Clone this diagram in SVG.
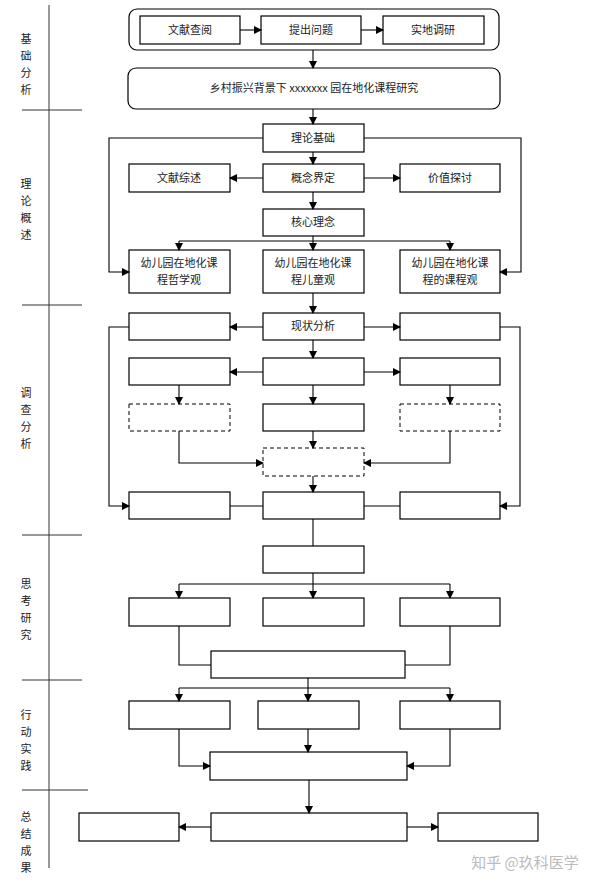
<svg xmlns="http://www.w3.org/2000/svg" width="607" height="889" viewBox="0 0 607 889">
<style>
.b{fill:#fff;stroke:#000;stroke-width:1.2}
.d{fill:#fff;stroke:#000;stroke-width:1;stroke-dasharray:4,3}
.t{font-family:"Noto Sans CJK SC","Liberation Sans",sans-serif;font-size:11px;fill:#222;text-anchor:middle}
.l{font-family:"Noto Sans CJK SC",sans-serif;font-size:11px;fill:#222;text-anchor:middle}
.c path{fill:none;stroke:#000;stroke-width:1.1}
</style>
<defs><marker id="a" markerWidth="8" markerHeight="8" refX="7" refY="4" orient="auto" markerUnits="userSpaceOnUse"><path d="M0,0L8,4L0,8z" fill="#000"/></marker></defs>
<rect width="607" height="889" fill="#fff"/>
<g id="lanes" stroke="#333" stroke-width="1">
<line x1="49" y1="5" x2="49" y2="868"/>
<line x1="22" y1="110" x2="82" y2="110"/>
<line x1="22" y1="305" x2="82" y2="305"/>
<line x1="22" y1="535" x2="82" y2="535"/>
<line x1="22" y1="680" x2="82" y2="680"/>
<line x1="22" y1="790" x2="88" y2="790"/>
</g>
<g id="lanelabels" class="l">
<text x="26" y="43">基</text><text x="26" y="60">础</text><text x="26" y="77">分</text><text x="26" y="94">析</text>
<text x="26" y="188">理</text><text x="26" y="205">论</text><text x="26" y="222">概</text><text x="26" y="239">述</text>
<text x="26" y="397">调</text><text x="26" y="414">查</text><text x="26" y="431">分</text><text x="26" y="448">析</text>
<text x="26" y="588">思</text><text x="26" y="605">考</text><text x="26" y="622">研</text><text x="26" y="639">究</text>
<text x="26" y="719">行</text><text x="26" y="736">动</text><text x="26" y="753">实</text><text x="26" y="770">践</text>
<text x="26" y="821">总</text><text x="26" y="838">结</text><text x="26" y="855">成</text><text x="26" y="872">果</text>
</g>
<g id="n_top"><rect class="b" x="129" y="9" width="370" height="41" rx="8"/></g>
<g id="n1"><rect class="b" x="140" y="16" width="100" height="28"/><text class="t" x="190" y="34">文献查阅</text></g>
<g id="n2"><rect class="b" x="261" y="16" width="100" height="28"/><text class="t" x="311" y="34">提出问题</text></g>
<g id="n3"><rect class="b" x="383" y="16" width="101" height="28"/><text class="t" x="433" y="34">实地调研</text></g>
<g id="n_main"><rect class="b" x="128" y="68" width="372" height="41" rx="8"/><text class="t" x="314" y="92">乡村振兴背景下 xxxxxxx 园在地化课程研究</text></g>
<g id="n_llj"><rect class="b" x="263" y="124" width="101" height="28"/><text class="t" x="313" y="142">理论基础</text></g>
<g id="n_wxzs"><rect class="b" x="129" y="164" width="101" height="28"/><text class="t" x="179" y="182">文献综述</text></g>
<g id="n_gnjd"><rect class="b" x="263" y="164" width="101" height="28"/><text class="t" x="313" y="182">概念界定</text></g>
<g id="n_jztt"><rect class="b" x="400" y="164" width="100" height="28"/><text class="t" x="450" y="182">价值探讨</text></g>
<g id="n_hxln"><rect class="b" x="263" y="209" width="101" height="27"/><text class="t" x="313" y="226">核心理念</text></g>
<g id="n_zx"><rect class="b" x="129" y="250" width="101" height="43"/><text class="t" x="179" y="267">幼儿园在地化课</text><text class="t" x="179" y="284">程哲学观</text></g>
<g id="n_et"><rect class="b" x="263" y="250" width="101" height="43"/><text class="t" x="313" y="267">幼儿园在地化课</text><text class="t" x="313" y="284">程儿童观</text></g>
<g id="n_kc"><rect class="b" x="400" y="250" width="100" height="43"/><text class="t" x="450" y="267">幼儿园在地化课</text><text class="t" x="450" y="284">程的课程观</text></g>
<g id="n_xz"><rect class="b" x="263" y="313" width="101" height="27"/><text class="t" x="313" y="330">现状分析</text></g>
<g id="r1l"><rect class="b" x="129" y="313" width="101" height="27"/></g>
<g id="r1r"><rect class="b" x="400" y="313" width="100" height="27"/></g>
<g id="r2l"><rect class="b" x="129" y="358" width="101" height="27"/></g>
<g id="r2c"><rect class="b" x="263" y="358" width="101" height="27"/></g>
<g id="r2r"><rect class="b" x="400" y="358" width="100" height="27"/></g>
<g id="r3l"><rect class="d" x="129" y="404" width="101" height="27"/></g>
<g id="r3c"><rect class="b" x="263" y="404" width="101" height="27"/></g>
<g id="r3r"><rect class="d" x="400" y="404" width="100" height="27"/></g>
<g id="r4c"><rect class="d" x="263" y="448" width="101" height="28"/></g>
<g id="r5l"><rect class="b" x="129" y="492" width="101" height="27"/></g>
<g id="r5c"><rect class="b" x="263" y="492" width="101" height="27"/></g>
<g id="r5r"><rect class="b" x="400" y="492" width="100" height="27"/></g>
<g id="s0"><rect class="b" x="263" y="546" width="101" height="27"/></g>
<g id="s1"><rect class="b" x="129" y="598" width="101" height="28"/></g>
<g id="s2"><rect class="b" x="263" y="598" width="101" height="28"/></g>
<g id="s3"><rect class="b" x="400" y="598" width="100" height="28"/></g>
<g id="s4"><rect class="b" x="211" y="651" width="194" height="27"/></g>
<g id="x1"><rect class="b" x="129" y="701" width="101" height="28"/></g>
<g id="x2"><rect class="b" x="258" y="701" width="101" height="28"/></g>
<g id="x3"><rect class="b" x="400" y="701" width="100" height="28"/></g>
<g id="x4"><rect class="b" x="210" y="752" width="197" height="28"/></g>
<g id="z1"><rect class="b" x="79" y="813" width="100" height="28"/></g>
<g id="z2"><rect class="b" x="211" y="813" width="196" height="28"/></g>
<g id="z3"><rect class="b" x="438" y="813" width="100" height="28"/></g>
<g id="connectors" class="c">
<path d="M240,30H261" marker-end="url(#a)"/>
<path d="M361,30H383" marker-end="url(#a)"/>
<path d="M313,50V68" marker-end="url(#a)"/>
<path d="M313,109V124" marker-end="url(#a)"/>
<path d="M313,152V164" marker-end="url(#a)"/>
<path d="M263,178H230" marker-end="url(#a)"/>
<path d="M364,178H400" marker-end="url(#a)"/>
<path d="M313,192V209" marker-end="url(#a)"/>
<path d="M313,236V250" marker-end="url(#a)"/>
<path d="M179,241H450"/>
<path d="M179,241V250" marker-end="url(#a)"/>
<path d="M450,241V250" marker-end="url(#a)"/>
<path d="M263,138H109V272H129" marker-end="url(#a)"/>
<path d="M364,138H521V272H500" marker-end="url(#a)"/>
<path d="M313,293V313" marker-end="url(#a)"/>
<path d="M263,327H230" marker-end="url(#a)"/>
<path d="M364,327H400" marker-end="url(#a)"/>
<path d="M129,327H109V506H129" marker-end="url(#a)"/>
<path d="M500,327H520V506H500" marker-end="url(#a)"/>
<path d="M313,340V358" marker-end="url(#a)"/>
<path d="M263,372H230" marker-end="url(#a)"/>
<path d="M364,372H400" marker-end="url(#a)"/>
<path d="M179,385V404" marker-end="url(#a)"/>
<path d="M313,385V404" marker-end="url(#a)"/>
<path d="M450,385V404" marker-end="url(#a)"/>
<path d="M313,431V448" marker-end="url(#a)"/>
<path d="M179,431V463H263" marker-end="url(#a)"/>
<path d="M450,431V463H364" marker-end="url(#a)"/>
<path d="M313,476V492" marker-end="url(#a)"/>
<path d="M230,506H263M364,506H400"/>
<path d="M313,519V546"/>
<path d="M313,573V598" marker-end="url(#a)"/>
<path d="M179,584H450"/>
<path d="M179,584V598" marker-end="url(#a)"/>
<path d="M450,584V598" marker-end="url(#a)"/>
<path d="M179,626V665H211M450,626V665H405"/>
<path d="M308,678V701" marker-end="url(#a)"/>
<path d="M179,688H450"/>
<path d="M179,688V701" marker-end="url(#a)"/>
<path d="M450,688V701" marker-end="url(#a)"/>
<path d="M179,729V766H210" marker-end="url(#a)"/>
<path d="M450,729V766H407" marker-end="url(#a)"/>
<path d="M308,729V752" marker-end="url(#a)"/>
<path d="M309,780V813" marker-end="url(#a)"/>
<path d="M211,827H179" marker-end="url(#a)"/>
<path d="M407,827H438" marker-end="url(#a)"/>
</g>
<text x="525" y="868" font-family="Noto Sans CJK SC,sans-serif" font-size="15" fill="#bbb" text-anchor="middle">知乎 @玖科医学</text>
</svg>
